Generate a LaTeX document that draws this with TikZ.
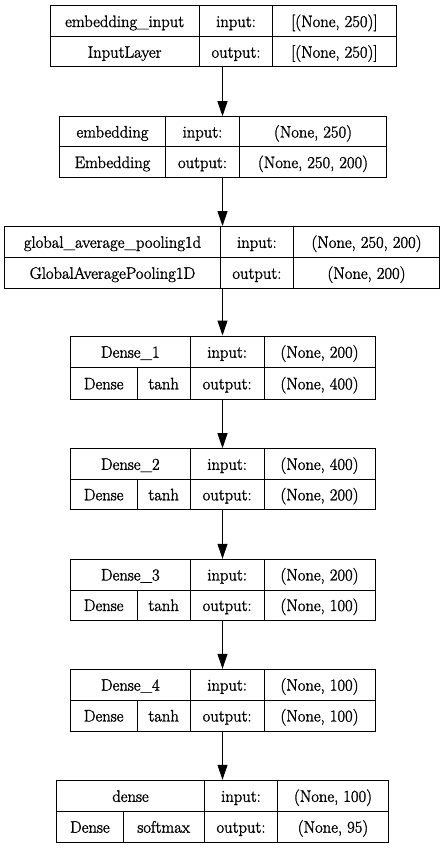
\documentclass[tikz,border=0pt]{standalone}
\usepackage{fontspec}
\newfontfamily\tnrfont[FakeBold=1.6]{Latin Modern Roman}
\usetikzlibrary{arrows.meta}
\newcommand\cell[4]{\node[txt] (#1) at (#2,#3+5.8) {#4};}
\begin{document}
\begin{tikzpicture}[x=1pt,y=-1pt,
  lay/.style={draw, line width=1pt, inner sep=0pt, rectangle},
  sep/.style={line width=1pt},
  txt/.style={font=\tnrfont\fontsize{16.6}{20}\selectfont, inner sep=0pt, anchor=base},
  arr/.style={line width=1pt, -{Triangle[length=15pt,width=10pt]}}]
\useasboundingbox (0,0) rectangle (445,848);
\coordinate (ax) at (222.5,0);

% box 1
\node[lay, minimum width=346pt, minimum height=61.3pt] (b1) at (223,36.35) {};
\draw[sep] (50,36.7) -- (396,36.7) (199.3,5.7) -- (199.3,67) (272.7,5.7) -- (272.7,67);
\cell{b1n}{124.65}{21.2}{embedding\_input}
\cell{b1t}{124.65}{51.85}{InputLayer}
\cell{b1i}{236}{21.2}{input:}
\cell{b1o}{236}{51.85}{output:}
\cell{b1iv}{334.35}{21.2}{[(None, 250)]}
\cell{b1ov}{334.35}{51.85}{[(None, 250)]}

% box 2
\node[lay, minimum width=327.4pt, minimum height=61pt] (b2) at (223,147.2) {};
\draw[sep] (59.3,146.7) -- (386.7,146.7) (165.7,116.7) -- (165.7,177.7) (239.3,116.7) -- (239.3,177.7);
\cell{b2n}{112.5}{131.7}{embedding}
\cell{b2t}{112.5}{162.2}{Embedding}
\cell{b2i}{202.5}{131.7}{input:}
\cell{b2o}{202.5}{162.2}{output:}
\cell{b2iv}{313}{131.7}{(None, 250)}
\cell{b2ov}{313}{162.2}{(None, 250, 200)}

% box 3
\node[lay, minimum width=434.8pt, minimum height=62pt] (b3) at (222.1,257.5) {};
\draw[sep] (4.7,257.5) -- (439.5,257.5) (220.3,226.5) -- (220.3,288.5) (293.5,226.5) -- (293.5,288.5);
\cell{b3n}{112.5}{242}{global\_average\_pooling1d}
\cell{b3t}{112.5}{273}{GlobalAveragePooling1D}
\cell{b3i}{256.9}{242}{input:}
\cell{b3o}{256.9}{273}{output:}
\cell{b3iv}{366.5}{242}{(None, 250, 200)}
\cell{b3ov}{366.5}{273}{(None, 200)}

% Dense_1
\node[lay, minimum width=304.7pt, minimum height=63.3pt] (b4) at (222.65,367.65) {};
\draw[sep] (70.3,367.7) -- (375,367.7) (190.3,336) -- (190.3,399.3) (264,336) -- (264,399.3) (137,367.7) -- (137,399.3);
\cell{b4n}{130.3}{351.85}{Dense\_1}
\cell{b4t}{103.65}{383.5}{Dense}
\cell{b4a}{163.65}{383.5}{tanh}
\cell{b4i}{227.15}{351.85}{input:}
\cell{b4o}{227.15}{383.5}{output:}
\cell{b4iv}{319.5}{351.85}{(None, 200)}
\cell{b4ov}{319.5}{383.5}{(None, 400)}

% Dense_2
\node[lay, minimum width=304.7pt, minimum height=61pt] (b5) at (222.65,479.2) {};
\draw[sep] (70.3,479.3) -- (375,479.3) (190.3,448.7) -- (190.3,509.7) (264,448.7) -- (264,509.7) (137,479.3) -- (137,509.7);
\cell{b5n}{130.3}{464}{Dense\_2}
\cell{b5t}{103.65}{494.5}{Dense}
\cell{b5a}{163.65}{494.5}{tanh}
\cell{b5i}{227.15}{464}{input:}
\cell{b5o}{227.15}{494.5}{output:}
\cell{b5iv}{319.5}{464}{(None, 400)}
\cell{b5ov}{319.5}{494.5}{(None, 200)}

% Dense_3
\node[lay, minimum width=304.7pt, minimum height=61pt] (b6) at (222.65,589.8) {};
\draw[sep] (70.3,590) -- (375,590) (190.3,559.3) -- (190.3,620.3) (264,559.3) -- (264,620.3) (137,590) -- (137,620.3);
\cell{b6n}{130.3}{574.65}{Dense\_3}
\cell{b6t}{103.65}{605.15}{Dense}
\cell{b6a}{163.65}{605.15}{tanh}
\cell{b6i}{227.15}{574.65}{input:}
\cell{b6o}{227.15}{605.15}{output:}
\cell{b6iv}{319.5}{574.65}{(None, 200)}
\cell{b6ov}{319.5}{605.15}{(None, 100)}

% Dense_4
\node[lay, minimum width=304.7pt, minimum height=61.7pt] (b7) at (222.65,700.15) {};
\draw[sep] (70.3,700.3) -- (375,700.3) (190.3,669.3) -- (190.3,731) (264,669.3) -- (264,731) (137,700.3) -- (137,731);
\cell{b7n}{130.3}{684.8}{Dense\_4}
\cell{b7t}{103.65}{715.65}{Dense}
\cell{b7a}{163.65}{715.65}{tanh}
\cell{b7i}{227.15}{684.8}{input:}
\cell{b7o}{227.15}{715.65}{output:}
\cell{b7iv}{319.5}{684.8}{(None, 100)}
\cell{b7ov}{319.5}{715.65}{(None, 100)}

% dense
\node[lay, minimum width=331.6pt, minimum height=61.7pt] (b8) at (222.5,811.15) {};
\draw[sep] (56.7,811.7) -- (388.3,811.7) (204.3,780.3) -- (204.3,842) (277.7,780.3) -- (277.7,842) (123,811.7) -- (123,842);
\cell{b8n}{130.5}{796}{dense}
\cell{b8t}{89.85}{826.85}{Dense}
\cell{b8a}{163.65}{826.85}{softmax}
\cell{b8i}{241}{796}{input:}
\cell{b8o}{241}{826.85}{output:}
\cell{b8iv}{333}{796}{(None, 100)}
\cell{b8ov}{333}{826.85}{(None, 95)}

% arrows
\draw[arr] (b1.south -| ax) -- (b2.north -| ax);
\draw[arr] (b2.south -| ax) -- (b3.north -| ax);
\draw[arr] (b3.south -| ax) -- (b4.north -| ax);
\draw[arr] (b4.south -| ax) -- (b5.north -| ax);
\draw[arr] (b5.south -| ax) -- (b6.north -| ax);
\draw[arr] (b6.south -| ax) -- (b7.north -| ax);
\draw[arr] (b7.south -| ax) -- (b8.north -| ax);
\end{tikzpicture}
\end{document}
